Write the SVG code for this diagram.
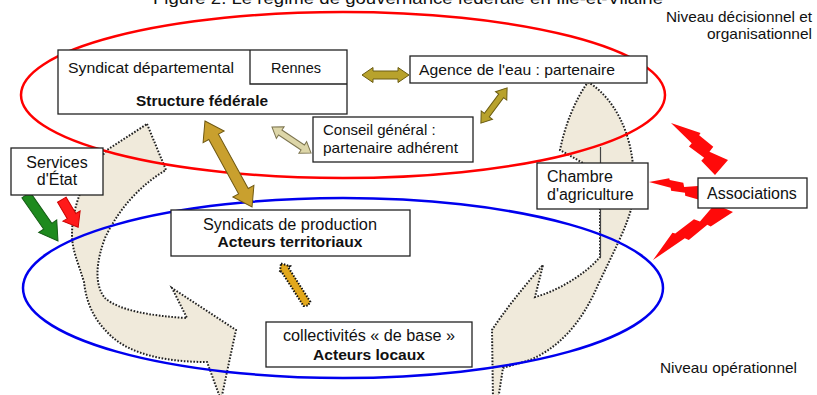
<svg xmlns="http://www.w3.org/2000/svg" xmlns:xlink="http://www.w3.org/1999/xlink" width="817" height="395" viewBox="0 0 817 395">
<style>
text{font-family:"Liberation Sans",Arial,sans-serif;fill:#111;}
.box{fill:#fff;stroke:#222;stroke-width:1.3;}
.b{font-weight:bold;}
.flow{fill:#f0eadb;stroke:#222;stroke-width:2;stroke-dasharray:1.6 1.6;}
.gold{fill:#c9a02e;stroke:#6f5812;stroke-width:1;}
.olive{fill:#b8a22c;stroke:#6a5c12;stroke-width:1;}
.khaki{fill:#ddd6a8;stroke:#7d7550;stroke-width:1;}
.bolt{fill:#ff0a0a;}
</style>
<defs>
<path id="bolt" d="M39.22,0 L0,18.01 L35.19,38.81 L23.25,44.93 L46.35,69.05 L41.65,72 L100,100 L68.37,59.62 L76.75,55.59 L51.16,31.47 L59.54,28.15 Z"/>
</defs>
<rect width="817" height="395" fill="#fff"/>
<text x="408" y="4" font-size="17" text-anchor="middle" textLength="510" lengthAdjust="spacingAndGlyphs">Figure 2. Le régime de gouvernance fédérale en Ille-et-Vilaine</text>

<g id="flows">
<path class="flow" d="M147,124 L166,170 C140,185 118,210 105,238 C96,262 94,285 105,298 C118,310 150,316 187,318 L172,288 L236,330 L221,400 L207,362 C170,362 132,356 110,335 C92,318 86,300 84,282 C78,262 72,250 72,235 C72,205 85,175 107,150 Z"/>
<path class="flow" d="M588,82 C602,90 628,115 633,165 L632,205 C628,225 612,255 598,285 C585,315 565,345 530,360 L503,368 L498,400 L493,400 L492,330 C505,310 525,285 543,265 L535,297 C555,292 585,275 600,257 L600,172 L583,163 L560,150 C565,125 575,100 588,82 Z"/>
<line x1="600.5" y1="147" x2="600.5" y2="257" stroke="#444" stroke-width="1.2"/>
</g>

<g id="levels" fill="none" stroke-width="2.5">
<ellipse cx="343" cy="95" rx="322" ry="83" stroke="#ff0000"/>
<ellipse cx="343" cy="288" rx="320" ry="90" stroke="#0000ee"/>
<text x="812" y="22" font-size="15" text-anchor="end" textLength="146" lengthAdjust="spacingAndGlyphs">Niveau décisionnel et</text>
<text x="812" y="39" font-size="15" text-anchor="end" textLength="105" lengthAdjust="spacingAndGlyphs">organisationnel</text>
<text x="660" y="373" font-size="15" textLength="137" lengthAdjust="spacingAndGlyphs">Niveau opérationnel</text>
</g>

<g id="connectors">
<polygon class="olive" transform="translate(385.5,75)" points="-23.5,0 -12.5,-7.5 -12.5,-4 12.5,-4 12.5,-7.5 23.5,0 12.5,7.5 12.5,4 -12.5,4 -12.5,7.5"/>
<polygon class="olive" transform="translate(494,105.5) rotate(126.6)" points="-22,0 -12,-7 -12,-3 12,-3 12,-7 22,0 12,7 12,3 -12,3 -12,7"/>
<polygon class="khaki" transform="translate(291.5,140) rotate(33.7)" points="-23.5,0 -13.5,-7 -13.5,-3 13.5,-3 13.5,-7 23.5,0 13.5,7 13.5,3 -13.5,3 -13.5,7"/>
<polygon class="gold" transform="translate(228.5,164) rotate(61.3)" points="-49,0 -31,-12 -31,-5.5 31,-5.5 31,-12 49,0 31,12 31,5.5 -31,5.5 -31,12"/>
<polygon transform="translate(294.5,284.5) rotate(57.3)" points="-25,0 -18,-6 -18,-4 23,-4 25,0 23,4 -18,4 -18,6" fill="#e2a81c" stroke="#111" stroke-width="2" stroke-dasharray="1.5 1.5"/>
<polygon transform="translate(42,218) rotate(55.2)" points="-28,-5 10,-5 10,-11 28,0 10,11 10,5 -28,5" fill="#1e8a1e" stroke="#145c14" stroke-width="1"/>
<polygon transform="translate(70,213.5) rotate(59.3)" points="-16,-5 3,-5 3,-10 16,0 3,10 3,5 -16,5" fill="#ff1a1a" stroke="#cc0000" stroke-width="1"/>
<use xlink:href="#bolt" class="bolt" transform="matrix(-0.4171 0.1123 -0.1865 -0.5883 731.36 170.6)"/>
<use xlink:href="#bolt" class="bolt" transform="matrix(-0.1432 0.2145 -0.4230 -0.3103 705.62 191.59)"/>
<use xlink:href="#bolt" class="bolt" transform="matrix(0.0716 0.3318 -0.8435 0.2783 730.19 198.99)"/>
</g>

<g id="syndicat-departemental">
<rect class="box" x="58" y="50" width="289" height="64"/>
<polyline points="250,50 250,84 347,84" fill="none" stroke="#222" stroke-width="1.3"/>
<text x="68" y="73" font-size="15.5" textLength="166" lengthAdjust="spacingAndGlyphs">Syndicat départemental</text>
<text x="271" y="73" font-size="15.5" textLength="50" lengthAdjust="spacingAndGlyphs">Rennes</text>
<text class="b" x="202" y="106" font-size="15" text-anchor="middle" textLength="132" lengthAdjust="spacingAndGlyphs">Structure fédérale</text>
</g>

<g id="agence-eau">
<rect class="box" x="410" y="56" width="237" height="27"/>
<text x="419" y="75" font-size="15" textLength="196" lengthAdjust="spacingAndGlyphs">Agence de l'eau : partenaire</text>
</g>

<g id="conseil-general">
<rect class="box" x="313" y="117" width="160" height="45"/>
<text x="323" y="135" font-size="15">Conseil général :</text>
<text x="323" y="153" font-size="15" textLength="135" lengthAdjust="spacingAndGlyphs">partenaire adhérent</text>
</g>

<g id="services-etat">
<rect class="box" x="11" y="148" width="92" height="47"/>
<text x="57" y="168" font-size="16" text-anchor="middle">Services</text>
<text x="57" y="185" font-size="16" text-anchor="middle">d'État</text>
</g>

<g id="syndicats-production">
<rect class="box" x="171" y="210" width="239" height="46"/>
<text x="290" y="230" font-size="16" text-anchor="middle" textLength="174" lengthAdjust="spacingAndGlyphs">Syndicats de production</text>
<text class="b" x="290" y="247" font-size="15.5" text-anchor="middle" textLength="145" lengthAdjust="spacingAndGlyphs">Acteurs territoriaux</text>
</g>

<g id="collectivites">
<rect class="box" x="266" y="322" width="206" height="45"/>
<text x="369" y="341" font-size="16" text-anchor="middle" textLength="172" lengthAdjust="spacingAndGlyphs">collectivités « de base »</text>
<text class="b" x="369" y="360" font-size="15.5" text-anchor="middle" textLength="112" lengthAdjust="spacingAndGlyphs">Acteurs locaux</text>
</g>

<g id="chambre-agriculture">
<rect class="box" x="537" y="163" width="111" height="46"/>
<text x="547" y="182" font-size="16">Chambre</text>
<text x="547" y="200" font-size="16">d'agriculture</text>
</g>

<g id="associations">
<rect class="box" x="698" y="178" width="109" height="30"/>
<text x="707" y="199" font-size="16">Associations</text>
</g>
</svg>
